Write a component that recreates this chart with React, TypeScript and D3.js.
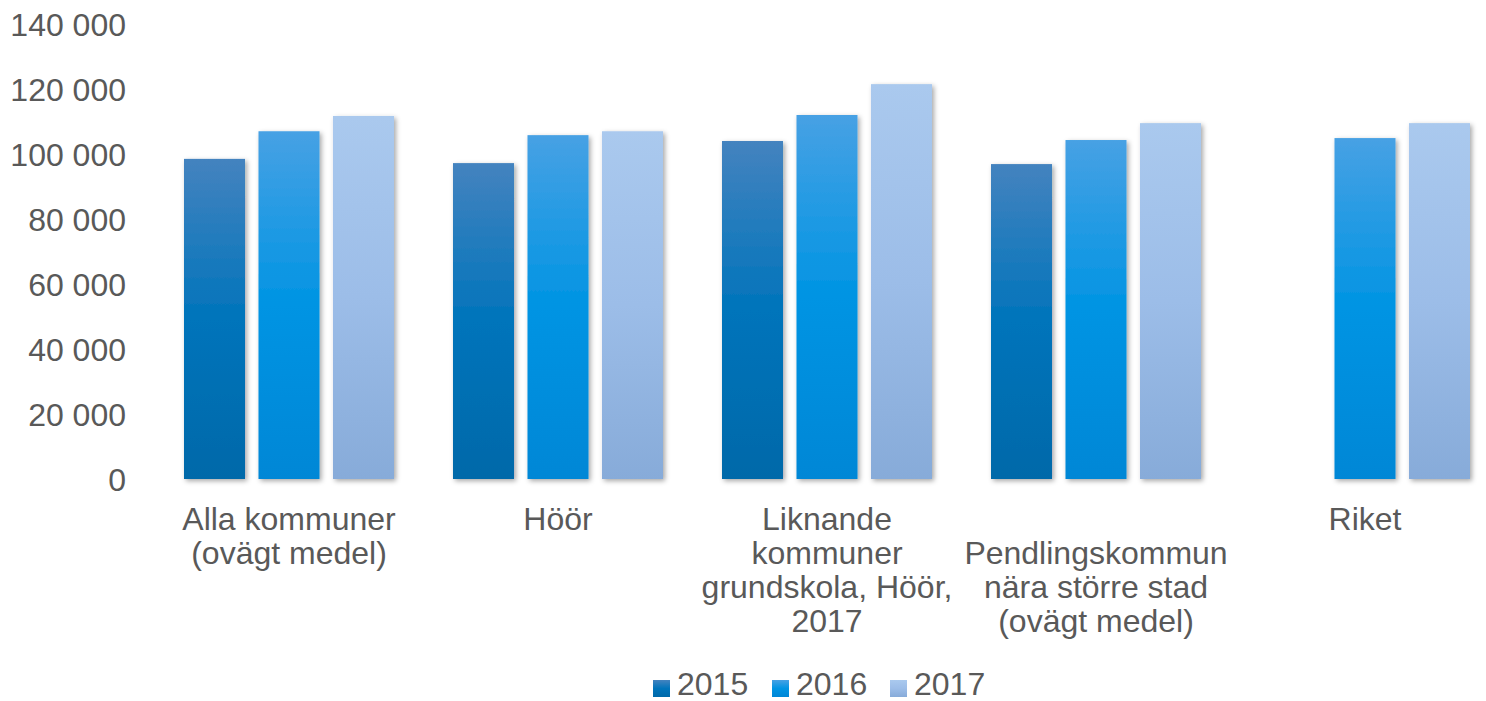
import React from "react";
import * as d3 from "d3";

const categories: string[][] = [
  ["Alla kommuner", "(ovägt medel)"],
  ["Höör"],
  ["Liknande", "kommuner", "grundskola, Höör,", "2017"],
  ["", "Pendlingskommun", "nära större stad", "(ovägt medel)"],
  ["Riket"],
];
const categoryKeys = ["alla", "hoor", "liknande", "pendling", "riket"];
const years = ["2015", "2016", "2017"];
const values2015: (number | null)[] = [98500, 97200, 104000, 96900, null];
const values2016: (number | null)[] = [107000, 105800, 112000, 104300, 104900];
const values2017: (number | null)[] = [111700, 107000, 121500, 109500, 109500];
const yTicks = [0, 20000, 40000, 60000, 80000, 100000, 120000, 140000];

const gradients: Record<string, string[]> = {
  "2015": ["#4483bf", "#0074bb", "#0069a9"],
  "2016": ["#47a1e4", "#0094e3", "#0087d6"],
  "2017": ["#aac9ee", "#9cbde8", "#87abd9"],
};

const W = 1486;
const H = 701;
const FONT = "'Liberation Sans', Arial, sans-serif";
const TXT = "#595959";
const FS = 32;

export default function App() {
  const seriesValues = [values2015, values2016, values2017];
  const x0 = d3.scaleBand<string>().domain(categoryKeys).range([154.5, 1499.5]).padding(0);
  const x1 = d3
    .scaleBand<string>()
    .domain(years)
    .range([0, x0.bandwidth()])
    .paddingInner(0.181)
    .paddingOuter(0.396);
  const y = d3.scaleLinear().domain([0, 140000]).range([479, 24]);
  const fmt = (v: number) => d3.format(",")(v).replace(/,/g, " ");

  const legendX = [653, 772, 890];

  return (
    <svg
      width={W}
      height={H}
      style={{ position: "absolute", left: 0, top: 0, background: "#fff" }}
      fontFamily={FONT}
    >
      <defs>
        {years.map((yr) => (
          <linearGradient key={yr} id={`g${yr}`} x1="0" y1="0" x2="0" y2="1">
            <stop offset="0%" stopColor={gradients[yr][0]} />
            <stop offset="50%" stopColor={gradients[yr][1]} />
            <stop offset="100%" stopColor={gradients[yr][2]} />
          </linearGradient>
        ))}
        <filter id="shadow" x="-20%" y="-5%" width="140%" height="110%">
          <feDropShadow dx="2" dy="2" stdDeviation="2.5" floodColor="#000" floodOpacity="0.35" />
        </filter>
        <filter id="lshadow" x="-20%" y="-20%" width="140%" height="140%">
          <feDropShadow dx="0" dy="1" stdDeviation="0.8" floodColor="#000" floodOpacity="0.2" />
        </filter>
      </defs>

      {yTicks.map((t) => (
        <g key={t}>
          <line
            x1={154.5}
            x2={W}
            y1={y(t)}
            y2={y(t)}
            stroke="#d9d9d9"
            strokeWidth={1.75}
            filter="url(#lshadow)"
          />
          <text x={126} y={y(t) + 11.5} textAnchor="end" fontSize={FS} fill={TXT}>
            {fmt(t)}
          </text>
        </g>
      ))}

      {categoryKeys.map((c, i) => (
        <g key={c} transform={`translate(${x0(c)},0)`}>
          {years.map((yr, j) => {
            const v = seriesValues[j][i];
            if (v == null) return null;
            return (
              <rect
                key={yr}
                x={x1(yr)}
                y={y(v)}
                width={x1.bandwidth()}
                height={y(0) - y(v)}
                fill={`url(#g${yr})`}
                filter="url(#shadow)"
              />
            );
          })}
        </g>
      ))}

      {categoryKeys.map((c, i) => (
        <text
          key={c}
          x={(x0(c) as number) + x0.bandwidth() / 2}
          textAnchor="middle"
          fontSize={FS}
          fill={TXT}
        >
          {categories[i].map((line, k) => (
            <tspan key={k} x={(x0(c) as number) + x0.bandwidth() / 2} y={530 + k * 34}>
              {line}
            </tspan>
          ))}
        </text>
      ))}

      {years.map((yr, j) => (
        <g key={yr}>
          <rect x={legendX[j]} y={680} width={17} height={17} fill={`url(#g${yr})`} />
          <text x={legendX[j] + 24} y={695} fontSize={FS} fill={TXT}>
            {yr}
          </text>
        </g>
      ))}
    </svg>
  );
}
